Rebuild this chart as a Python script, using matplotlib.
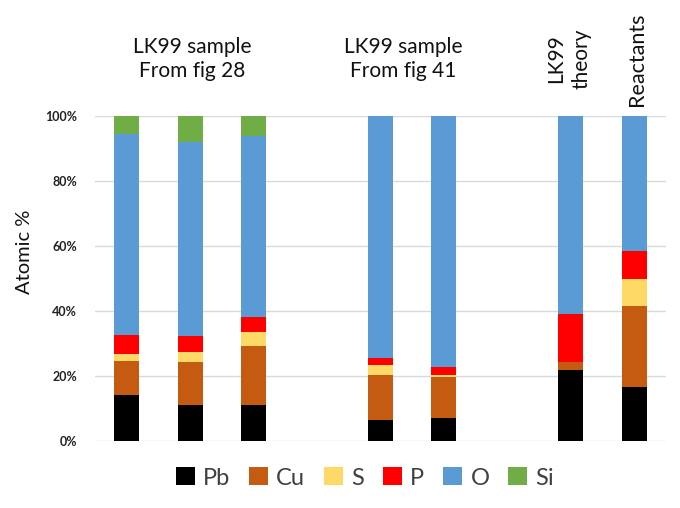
import matplotlib
matplotlib.use("Agg")
import matplotlib.pyplot as plt
import numpy as np

plt.rcParams['font.family'] = ['Lato', 'DejaVu Sans']

# 9 category slots (empty slots separate the groups)
slots = ["s1", "s2", "s3", "", "s5", "s6", "", "theory", "reactants"]
Pb = [14.2, 11.2, 11.2, 0, 6.5, 7.0, 0, 21.7, 16.7]
Cu = [10.3, 13.2, 18.1, 0, 13.8, 12.8, 0, 2.6, 24.9]
S  = [2.3, 3.1, 4.2, 0, 3.0, 0.5, 0, 0.0, 8.3]
P  = [5.8, 4.7, 4.8, 0, 2.3, 2.5, 0, 14.7, 8.5]
O  = [61.9, 59.7, 55.4, 0, 74.4, 77.2, 0, 61.0, 41.6]
Si = [5.6, 8.1, 6.3, 0, 0.0, 0.0, 0, 0.0, 0.0]

series = [("Pb", Pb, "#000000"), ("Cu", Cu, "#C55A11"), ("S", S, "#FFD966"),
          ("P", P, "#FF0000"), ("O", O, "#5B9BD5"), ("Si", Si, "#70AD47")]

fig = plt.figure(figsize=(6.8, 5.08), dpi=100)
ax = fig.add_axes([95/680, 1-441/508, 571/680, 325/508])

x = np.arange(len(slots))
bottom = np.zeros(len(slots))
handles = []
for name, vals, col in series:
    v = np.array(vals, dtype=float)
    h = ax.bar(x, v, width=0.394, bottom=bottom, color=col, label=name, zorder=3)
    handles.append(h)
    bottom += v

ax.set_xlim(-0.5, len(slots) - 0.5)
ax.set_ylim(0, 100)
ax.set_yticks([0, 20, 40, 60, 80, 100])
ax.set_yticklabels(["0%", "20%", "40%", "60%", "80%", "100%"], fontsize=9,
                   fontweight='bold', color='#222222')
ax.tick_params(axis='y', length=0, pad=13)
ax.set_xticks([])
ax.grid(axis='y', color='#d9d9d9', linewidth=1, zorder=0)
for s in ax.spines.values():
    s.set_visible(False)

fig.text(25/680, 1-252/508, "Atomic %", rotation=90, ha='center', va='center',
         fontsize=14.5, color='#111111')

# group labels
fig.text(192/680, 1-59/508, "LK99 sample\nFrom fig 28", ha='center', va='center',
         fontsize=15, linespacing=1.2, color='#111111')
fig.text(403/680, 1-59/508, "LK99 sample\nFrom fig 41", ha='center', va='center',
         fontsize=15, linespacing=1.2, color='#111111')
fig.text(569/680, 1-59/508, "LK99\ntheory", ha='center', va='center', rotation=90,
         fontsize=15, linespacing=1.3, color='#111111', multialignment='center')
fig.text(637/680, 1-59/508, "Reactants", ha='center', va='center', rotation=90,
         fontsize=15.5, color='#111111')

leg = fig.legend(handles=handles, labels=[n for n, _, _ in series], ncol=6,
                 loc='center', bbox_to_anchor=(365/680, 1-478/508), frameon=False,
                 fontsize=17, handlelength=0.8, handleheight=0.8, handletextpad=0.35,
                 columnspacing=0.8, labelcolor='#404040')

fig.savefig("out.png", dpi=100)
